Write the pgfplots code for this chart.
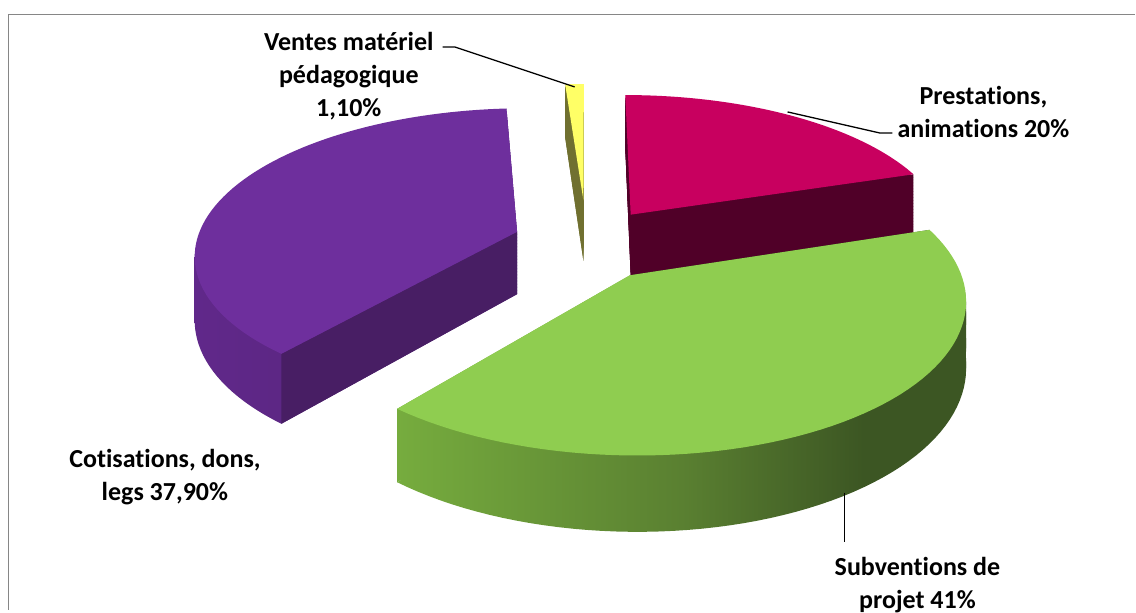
\documentclass[border=0pt]{standalone}
\usepackage{pgfplots}
\pgfplotsset{compat=1.18}
\usepackage{fontspec}
\setmainfont{Carlito}[Ligatures=NoCommon]
\definecolor{magTop}{RGB}{200,0,95}
\definecolor{magSide}{RGB}{80,0,40}
\definecolor{grTop}{RGB}{143,205,80}
\definecolor{grA}{RGB}{118,172,62}
\definecolor{grB}{RGB}{90,128,49}
\definecolor{grC}{RGB}{60,86,35}
\definecolor{puTop}{RGB}{110,47,157}
\definecolor{puSideA}{RGB}{98,41,140}
\definecolor{puSideB}{RGB}{86,36,124}
\definecolor{puFace}{RGB}{72,30,100}
\definecolor{yeTop}{RGB}{255,255,102}
\definecolor{yeSide}{RGB}{112,112,48}
\definecolor{frame}{RGB}{134,134,134}
\pgfdeclarehorizontalshading{greenside}{100bp}{color(0bp)=(grA); color(25bp)=(grA); color(50bp)=(grB); color(66bp)=(grC); color(100bp)=(grC)}
\pgfdeclarehorizontalshading{purpleside}{100bp}{color(0bp)=(puSideA); color(20bp)=(puSideA); color(60bp)=(puSideB); color(100bp)=(puSideB)}
% data (percent)
\def\vP{20}   % Prestations, animations
\def\vS{41}   % Subventions de projet
\def\vC{37.9} % Cotisations, dons, legs
\def\vV{1.1}  % Ventes materiel pedagogique
\pgfmathsetmacro\aP{90-3.6*\vP}
\pgfmathsetmacro\aS{\aP-3.6*\vS}
\pgfmathsetmacro\aC{\aS-3.6*\vC}
\pgfmathsetmacro\aV{\aC-3.6*\vV}
% explosion offsets along bisectors
\pgfmathsetmacro\ouP{0.24*cos((90+\aP)/2)}\pgfmathsetmacro\ovP{0.24*sin((90+\aP)/2)}
\pgfmathsetmacro\ouS{0.26*cos((\aP+\aS)/2-4)}\pgfmathsetmacro\ovS{0.26*sin((\aP+\aS)/2-4)}
\pgfmathsetmacro\ouC{0.23*cos((\aS+\aC)/2)}\pgfmathsetmacro\ovC{0.23*sin((\aS+\aC)/2)}
\pgfmathsetmacro\ouV{0.30*cos((\aC+\aV)/2)}\pgfmathsetmacro\ovV{0.30*sin((\aC+\aV)/2)}
\tikzset{declare function={
  PX(\u,\v)=587+321*\u/(1+0.143*\v);
  PY(\u,\v)=242-144*\v/(1+0.143*\v);
  PH(\v)=63/(1+0.143*\v);
}}
% slice face shifted down by a fraction #5 of the thickness
\newcommand\layer[6]{%
  \path[#6] ({PX(#1,#2)},{PY(#1,#2)+#5*PH(#2)}) -- plot[domain=#3:#4,samples=70,variable=\t]
   ({PX(#1+cos(\t),#2+sin(\t))},{PY(#1+cos(\t),#2+sin(\t))+#5*PH(#2+sin(\t))}) -- cycle;}
\newcommand\solid[5]{%
  \pgfplotsinvokeforeach{1,0.95,0.9,0.85,0.8,0.75,0.7,0.65,0.6,0.55,0.5,0.45,0.4,0.35,0.3,0.25,0.2,0.15,0.1,0.05}{\layer{#1}{#2}{#3}{#4}{##1}{#5}}}
\newcommand\radface[4]{%
  \fill[#4] ({PX(#1,#2)},{PY(#1,#2)})
   -- ({PX(#1+cos(#3),#2+sin(#3))},{PY(#1+cos(#3),#2+sin(#3))})
   -- ({PX(#1+cos(#3),#2+sin(#3))},{PY(#1+cos(#3),#2+sin(#3))+PH(#2+sin(#3))})
   -- ({PX(#1,#2)},{PY(#1,#2)+PH(#2)}) -- cycle;}
\begin{document}
\begin{tikzpicture}
\begin{axis}[
  scale only axis, width=568pt, height=305pt,
  xmin=0, xmax=1136, ymin=0, ymax=610, y dir=reverse,
  hide axis, clip=false]
\path (0,0) rectangle (1136,610);
% frame
\draw[frame, line width=0.7pt] (8.5,610) -- (8.5,14.5) -- (1136,14.5);
% Ventes (back)
\radface{\ouV}{\ovV}{\aV}{yeSide}
\radface{\ouV}{\ovV}{\aC}{yeSide}
\solid{\ouV}{\ovV}{\aV}{\aC}{fill=yeSide}
\layer{\ouV}{\ovV}{\aV}{\aC}{0}{fill=yeTop}
% Prestations
\radface{\ouP}{\ovP}{90}{magSide}
\radface{\ouP}{\ovP}{\aP}{magSide}
\solid{\ouP}{\ovP}{\aP}{90}{fill=magSide}
\layer{\ouP}{\ovP}{\aP}{90}{0}{fill=magTop}
% Cotisations
\radface{\ouC}{\ovC}{\aC}{puSideB}
\solid{\ouC}{\ovC}{\aC}{\aS}{shading=purpleside}
\radface{\ouC}{\ovC}{\aS}{puFace}
\layer{\ouC}{\ovC}{\aC}{\aS}{0}{fill=puTop}
% Subventions (front)
\radface{\ouS}{\ovS}{\aS}{grA}
\radface{\ouS}{\ovS}{\aP}{grC}
\solid{\ouS}{\ovS}{\aS}{\aP}{shading=greenside}
\layer{\ouS}{\ovS}{\aS}{\aP}{0}{fill=grTop}
% leader lines
\draw[black, line width=0.65pt] (443,47) -- (455,47) -- (575,87);
\draw[black, line width=0.65pt] (788,112) -- (880,133) -- (893,133);
\draw[black, line width=0.65pt] (845,493) -- (845,542);
% labels
\begin{scope}[every node/.style={align=center, font=\fontsize{13}{16.5}\selectfont\bfseries, inner sep=0pt}]
\node at (349,76) {Ventes matériel\\pédagogique\\1,10\%};
\node at (984,112) {Prestations,\\animations 20\%};
\node at (918,585) {Subventions de\\projet 41\%};
\node at (165,477) {Cotisations, dons,\\legs 37,90\%};
\end{scope}
\end{axis}
\end{tikzpicture}
\end{document}
